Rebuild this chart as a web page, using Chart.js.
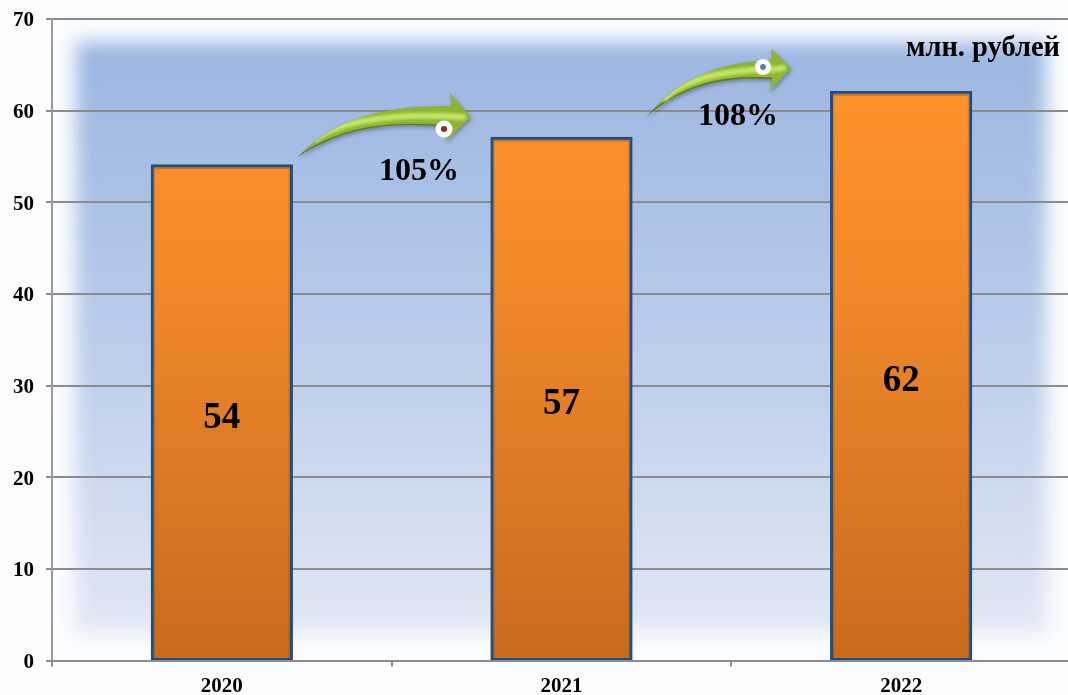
<!DOCTYPE html>
<html><head><meta charset="utf-8">
<style>html,body{margin:0;padding:0;width:1068px;height:695px;overflow:hidden;background:#fafcfe}
#wrap{position:absolute;left:0;top:0;width:1071px;height:695px}
canvas{display:block}</style>
<script src="https://cdn.jsdelivr.net/npm/chart.js@4"></script>
</head><body><div id="wrap"><canvas id="c" width="1071" height="695"></canvas></div>
<script>
const categories = ["2020", "2021", "2022"];
const values = [54, 57, 62];
const yTicks = [0, 10, 20, 30, 40, 50, 60, 70];
const growthLabels = ["105%", "108%"];
const unitLabel = "млн. рублей";
const SERIF = '"Liberation Serif","Times New Roman",serif';

const backdrop = {
  id: 'backdrop',
  beforeDraw(chart) {
    const ctx = chart.ctx;
    ctx.save();
    ctx.fillStyle = '#fafcfe';
    ctx.fillRect(0, 0, chart.width, chart.height);
    ctx.filter = 'blur(9px)';
    const g = ctx.createLinearGradient(0, 42, 0, 632);
    g.addColorStop(0, '#9db7e2');
    g.addColorStop(0.25, '#a9c0e6');
    g.addColorStop(0.6, '#c2d1ec');
    g.addColorStop(1, '#e0e7f4');
    ctx.fillStyle = g;
    ctx.fillRect(76, 42, 970, 590);
    ctx.restore();
  }
};

function arrow(ctx, p) {
  ctx.save();
  const path = new Path2D();
  path.moveTo(p.tail[0], p.tail[1]);
  path.bezierCurveTo(...p.up1, ...p.up2, ...p.neckTop);
  path.lineTo(...p.headTop);
  path.lineTo(...p.tip);
  path.lineTo(...p.headBot);
  path.lineTo(...p.neckBot);
  path.bezierCurveTo(...p.lo1, ...p.lo2, ...p.tail);
  path.closePath();
  ctx.save();
  ctx.shadowColor = 'rgba(40,50,60,0.45)';
  ctx.shadowBlur = 4;
  ctx.shadowOffsetX = 1;
  ctx.shadowOffsetY = 2;
  ctx.fillStyle = '#8fb334';
  ctx.fill(path);
  ctx.restore();
  ctx.clip(path);
  const mid = (a, b) => [(a[0] + b[0]) / 2, (a[1] + b[1]) / 2];
  const m1 = mid(p.up1, p.lo2), m2 = mid(p.up2, p.lo1), mEnd = mid(p.neckTop, p.neckBot);
  ctx.strokeStyle = 'rgba(80,105,25,0.8)';
  ctx.lineWidth = 3;
  ctx.beginPath();
  ctx.moveTo(...p.tail);
  ctx.bezierCurveTo(...p.lo2, ...p.lo1, ...p.neckBot);
  ctx.stroke();
  ctx.filter = 'blur(1.5px)';
  ctx.strokeStyle = '#c3e666';
  ctx.lineWidth = 6;
  ctx.lineCap = 'round';
  ctx.beginPath();
  ctx.moveTo(p.tail[0] + 18, p.tail[1] - 18);
  ctx.bezierCurveTo(...m1, ...m2, ...mEnd);
  ctx.lineTo(p.tip[0] - 8, p.tip[1]);
  ctx.stroke();
  ctx.restore();

  ctx.save();
  ctx.beginPath();
  ctx.arc(p.dot[0], p.dot[1], p.dotR, 0, Math.PI * 2);
  ctx.fillStyle = '#ffffff';
  ctx.fill();
  ctx.beginPath();
  ctx.arc(p.dot[0], p.dot[1], p.dotR * 0.36, 0, Math.PI * 2);
  ctx.fillStyle = p.dotColor;
  ctx.fill();
  ctx.restore();
}

const overlay = {
  id: 'overlay',
  afterDatasetsDraw(chart) {
    const ctx = chart.ctx;
    const meta = chart.getDatasetMeta(0);

    meta.data.forEach(bar => {
      const l = bar.x - bar.width / 2 + 1.5, r = bar.x + bar.width / 2 - 1.5;
      const t = bar.y + 1.5;
      ctx.save();
      ctx.fillStyle = 'rgba(90,70,50,0.35)';
      ctx.fillRect(l, t, r - l, 2);
      ctx.fillStyle = 'rgba(90,70,50,0.22)';
      ctx.fillRect(l, t + 2, 1.5, bar.base - t - 4);
      ctx.fillRect(r - 1.5, t + 2, 1.5, bar.base - t - 4);
      ctx.restore();
    });

    ctx.save();
    ctx.fillStyle = '#000';
    ctx.textAlign = 'center';
    ctx.textBaseline = 'middle';
    ctx.font = 'bold 37px ' + SERIF;
    meta.data.forEach((bar, i) => {
      ctx.fillText(String(values[i]), bar.x, (bar.y + bar.base) / 2 + 5.5);
    });
    ctx.restore();

    arrow(ctx, {
      tail: [298, 157], up1: [335, 118], up2: [385, 105], neckTop: [452, 106],
      headTop: [450, 93], tip: [471, 117], headBot: [445, 142], neckBot: [452, 127],
      lo1: [395, 122], lo2: [345, 125], dot: [444, 129], dotR: 8.5, dotColor: '#8e2a2f'
    });
    arrow(ctx, {
      tail: [647, 116], up1: [680, 78], up2: [720, 62], neckTop: [772, 60],
      headTop: [771, 49], tip: [791, 68], headBot: [770, 91], neckBot: [772, 79],
      lo1: [725, 76], lo2: [685, 84], dot: [763, 67], dotR: 8, dotColor: '#4f81bd'
    });

    ctx.save();
    ctx.fillStyle = '#000';
    ctx.textBaseline = 'middle';
    ctx.textAlign = 'center';
    ctx.font = 'bold 32px ' + SERIF;
    ctx.fillText(growthLabels[0], 419, 172);
    ctx.fillText(growthLabels[1], 738, 117);
    ctx.textAlign = 'right';
    ctx.font = 'bold 28.5px ' + SERIF;
    ctx.fillText(unitLabel, 1060, 49);
    ctx.restore();
  }
};

function barFill(context) {
  const area = context.chart.chartArea;
  if (!area) return '#e8842a';
  const g = context.chart.ctx.createLinearGradient(0, 92, 0, area.bottom);
  g.addColorStop(0, '#ff9129');
  g.addColorStop(0.35, '#f0882a');
  g.addColorStop(1, '#c96a1d');
  return g;
}

new Chart(document.getElementById('c'), {
  type: 'bar',
  data: {
    labels: categories,
    datasets: [{
      data: values,
      backgroundColor: barFill,
      borderColor: '#1f4e82',
      borderWidth: 3,
      borderSkipped: false,
      inflateAmount: 1.5,
      barPercentage: 0.41,
      categoryPercentage: 1
    }]
  },
  plugins: [backdrop, overlay],
  options: {
    responsive: false,
    animation: false,
    layout: { padding: { top: 19, right: 0, bottom: 0, left: 0 } },
    plugins: { legend: { display: false }, tooltip: { enabled: false } },
    scales: {
      x: {
        offset: true,
        afterFit(s) { s.height = 34.5; },
        grid: {
          offset: true, drawOnChartArea: false, drawTicks: true,
          color: '#8c8c8c', lineWidth: 2, tickLength: 6
        },
        border: { color: '#8c8c8c', width: 2, z: 1 },
        ticks: {
          color: '#000', padding: 7, maxRotation: 0,
          font: { family: SERIF, weight: 'bold', size: 21 }
        }
      },
      y: {
        min: 0, max: 70,
        afterFit(s) { s.width = 52; s.paddingTop = 0; s.paddingBottom = 0; },
        afterBuildTicks(s) { s.ticks = yTicks.map(v => ({ value: v })); },
        grid: { color: '#8c8c8c', lineWidth: 2, tickLength: 6 },
        border: { color: '#9a9a9a', width: 2 },
        ticks: {
          color: '#000', padding: 12, labelOffset: 2,
          font: { family: SERIF, weight: 'bold', size: 21 }
        }
      }
    }
  }
});
</script></body></html>
